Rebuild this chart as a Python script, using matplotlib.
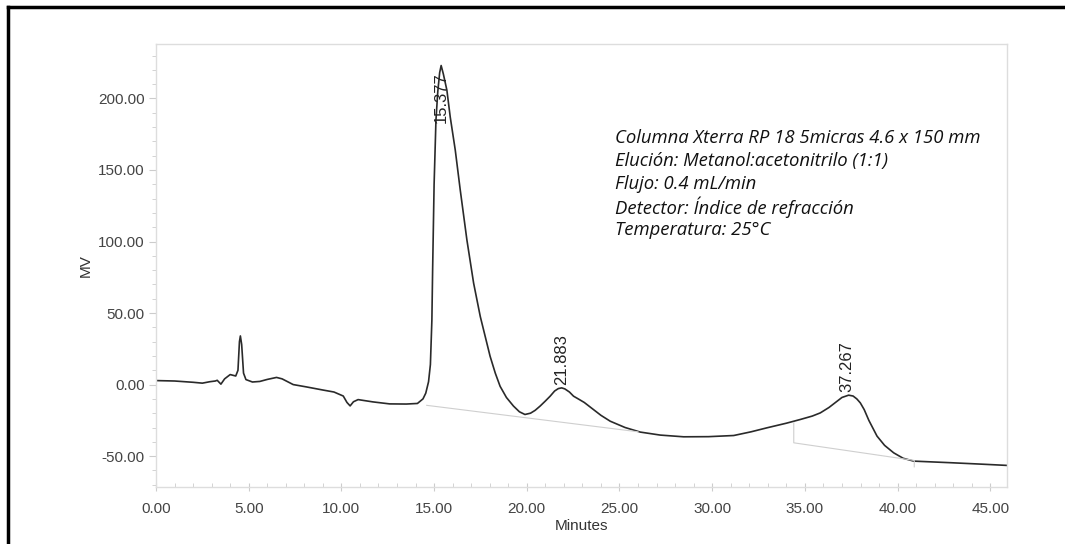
import matplotlib
matplotlib.use("Agg")
import matplotlib.pyplot as plt
from matplotlib.lines import Line2D
from matplotlib.ticker import MultipleLocator, FormatStrFormatter

# chromatogram (minutes, MV)
time_min = [0.0, 1.0, 2.0, 2.5, 2.9, 3.2, 3.3, 3.5, 3.7, 4.0, 4.3, 4.42, 4.5, 4.55,
            4.62, 4.72, 4.85, 5.2, 5.6, 6.0, 6.5, 6.8, 7.4, 8.1, 9.0, 9.6, 10.1, 10.3,
            10.47, 10.65, 10.9, 11.7, 12.6, 13.5, 14.1, 14.4, 14.55, 14.7, 14.8, 14.88,
            14.92, 15.0, 15.1, 15.2, 15.3, 15.38, 15.5, 15.69, 15.87, 16.14, 16.41,
            16.77, 17.13, 17.49, 18.02, 18.3, 18.56, 18.9, 19.28, 19.6, 19.9, 20.2,
            20.45, 20.72, 21.0, 21.26, 21.5, 21.7, 21.88, 22.05, 22.3, 22.52, 22.8,
            23.1, 23.6, 24.0, 24.5, 25.3, 26.12, 27.2, 28.46, 29.8, 31.16, 32.1, 32.96,
            34.0, 34.75, 35.4, 35.83, 36.3, 36.6, 37.0, 37.36, 37.6, 37.8, 37.99, 38.2,
            38.45, 38.89, 39.3, 39.79, 40.3, 40.87, 42.85, 44.5, 45.91]
signal_mv = [2.8, 2.5, 1.6, 1.0, 2.0, 2.5, 3.0, 0.3, 4.0, 7.0, 6.0, 10.0, 30.0, 34.0,
             28.0, 8.0, 3.5, 1.8, 2.2, 3.6, 5.0, 4.0, 0.0, -1.6, -3.8, -5.2, -8.0, -12.5,
             -14.9, -12.0, -10.5, -12.1, -13.5, -13.6, -13.2, -10.0, -6.0, 2.0, 14.0, 45.0,
             80.0, 140.0, 185.0, 205.0, 218.0, 223.0, 217.0, 205.7, 187.0, 164.0, 136.0,
             101.0, 71.0, 47.6, 19.8, 8.0, -1.2, -9.0, -15.0, -19.0, -20.9, -20.0,
             -18.0, -15.0, -11.5, -8.1, -4.5, -2.8, -2.3, -3.0, -5.2, -8.1, -10.2,
             -12.5, -17.5, -21.5, -25.6, -30.0, -33.2, -35.3, -36.5, -36.4, -35.6, -33.0,
             -30.2, -27.0, -24.4, -22.0, -19.8, -16.0, -13.0, -9.0, -7.4, -8.0, -10.0,
             -12.8, -17.5, -25.0, -36.0, -42.5, -47.7, -51.5, -53.5, -54.6, -55.6, -56.5]

# integration baselines
base1_t = [14.6, 26.0]
base1_v = [-14.5, -33.0]
base2_t = [34.4, 34.4, 40.9, 40.9]
base2_v = [-26.5, -40.7, -53.0, -57.5]

peak_t = [15.377, 21.883, 37.267]
peak_lbl = ["15.377", "21.883", "37.267"]
peak_y = [183.0, 0.0, -4.9]

notes = ["Columna Xterra RP 18 5micras 4.6 x 150 mm",
         "Elución: Metanol:acetonitrilo (1:1)",
         "Flujo: 0.4 mL/min",
         "Detector: Índice de refracción",
         "Temperatura: 25°C"]

plt.rcParams['font.family'] = ['Liberation Sans', 'DejaVu Sans']

fig = plt.figure(figsize=(10.65, 5.44), dpi=100)
ax = fig.add_axes([0.1465, 0.105, 0.799, 0.814])

ax.plot(time_min, signal_mv, color='#2a2a2a', lw=1.2)
ax.plot(base1_t, base1_v, color='#cfcfcf', lw=0.8)
ax.plot(base2_t, base2_v, color='#cfcfcf', lw=0.8)

for t, lbl, y in zip(peak_t, peak_lbl, peak_y):
    ax.text(t, y, lbl, rotation=90, ha='center', va='bottom',
            fontsize=12, color='#222222')

ax.set_xlim(0, 45.9)
ax.set_ylim(-71.5, 238)
ax.xaxis.set_major_locator(MultipleLocator(5))
ax.xaxis.set_minor_locator(MultipleLocator(1))
ax.yaxis.set_major_locator(MultipleLocator(50))
ax.yaxis.set_minor_locator(MultipleLocator(10))
ax.xaxis.set_major_formatter(FormatStrFormatter('%.2f'))
ax.yaxis.set_major_formatter(FormatStrFormatter('%.2f'))

for s in ax.spines.values():
    s.set_color('#dddddd')
    s.set_linewidth(1.0)
ax.tick_params(which='both', colors='#cccccc', labelcolor='#444444', labelsize=11)
ax.tick_params(axis='x', which='major', direction='inout', length=6, pad=8)
ax.tick_params(axis='x', which='minor', direction='in', length=3)
ax.tick_params(axis='y', which='major', direction='out', length=5, pad=3)
ax.tick_params(axis='y', which='minor', direction='out', length=3)

ax.set_xlabel('Minutes', fontsize=11, color='#333333', labelpad=2)
ax.set_ylabel('MV', fontsize=11, color='#333333', labelpad=4)

for i, line in enumerate(notes):
    fig.text(615 / 1065, 1 - (138 + 23 * i) / 544, line, style='italic',
             family='Open Sans', fontsize=13.3, color='#111111', va='center', ha='left')

# black frame of the scanned figure
fig.add_artist(Line2D([8 / 1065, 1.0], [1 - 7 / 544, 1 - 7 / 544],
                      transform=fig.transFigure, color='black', lw=2.5))
fig.add_artist(Line2D([8 / 1065, 8 / 1065], [0.0, 1 - 7 / 544],
                      transform=fig.transFigure, color='black', lw=2.5))

fig.savefig('out.png', dpi=100)
